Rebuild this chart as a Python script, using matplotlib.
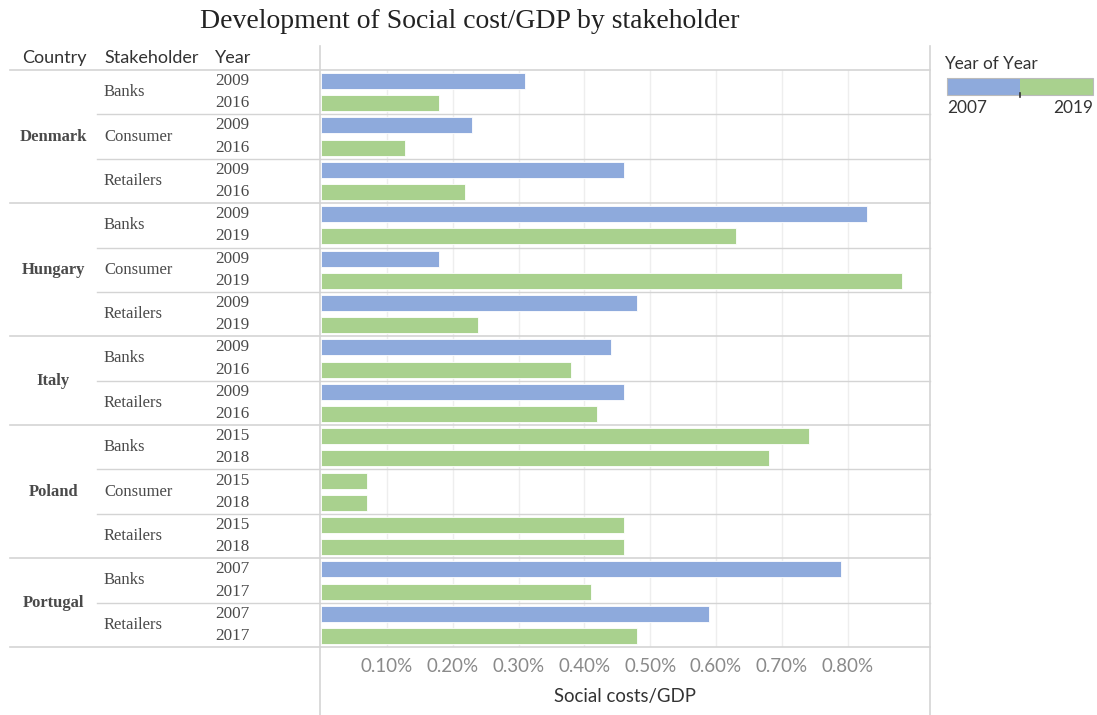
import matplotlib
matplotlib.use("Agg")
import matplotlib.pyplot as plt
from matplotlib.lines import Line2D
from matplotlib.patches import Rectangle
from matplotlib.transforms import blended_transform_factory

# data (values in % of GDP)
countries = ["Denmark", "Hungary", "Italy", "Poland", "Portugal"]
stakeholders = [
    ["Banks", "Consumer", "Retailers"],
    ["Banks", "Consumer", "Retailers"],
    ["Banks", "Retailers"],
    ["Banks", "Consumer", "Retailers"],
    ["Banks", "Retailers"],
]
years = [
    [(2009, 2016), (2009, 2016), (2009, 2016)],
    [(2009, 2019), (2009, 2019), (2009, 2019)],
    [(2009, 2016), (2009, 2016)],
    [(2015, 2018), (2015, 2018), (2015, 2018)],
    [(2007, 2017), (2007, 2017)],
]
values = [
    [(0.310, 0.179), (0.230, 0.128), (0.460, 0.219)],
    [(0.830, 0.630), (0.179, 0.882), (0.480, 0.238)],
    [(0.440, 0.379), (0.460, 0.419)],
    [(0.741, 0.680), (0.070, 0.070), (0.460, 0.460)],
    [(0.790, 0.410), (0.589, 0.480)],
]
xticks = [0.1, 0.2, 0.3, 0.4, 0.5, 0.6, 0.7, 0.8]

BLUE = "#8eaadc"
GREEN = "#a9d18e"
SPLIT_YEAR = 2013  # stepped colour legend: 2007..2019 in two steps
SERIF = "Liberation Serif"
SANS = "Lato"
LINE_C = "#d4d4d4"
LABEL_C = "#4a4a4a"

W, H = 1097, 715
fig = plt.figure(figsize=(W / 100, H / 100), dpi=100)


def fx(px):
    return px / W


def fy(py):
    return 1 - py / H


ax = fig.add_axes([fx(321), fy(647), fx(930) - fx(321), fy(70) - fy(647)])

# flatten into bar rows
rows_y, rows_v, rows_c = [], [], []
row = 0
for ci, c in enumerate(countries):
    for si, s in enumerate(stakeholders[ci]):
        for k in range(2):
            rows_y.append(row + 0.5)
            rows_v.append(values[ci][si][k])
            rows_c.append(BLUE if years[ci][si][k] <= SPLIT_YEAR else GREEN)
            row += 1
n_rows = row

ax.barh(rows_y, rows_v, height=0.72, color=rows_c, edgecolor="white",
        linewidth=0.6, zorder=3)
ax.set_ylim(n_rows, 0)
ax.set_xlim(0, 0.925)
ax.set_yticks([])
ax.set_xticks(xticks)
ax.set_xticklabels([f"{t:.2f}%" for t in xticks], color="#8a8a8a",
                   fontsize=13.5, family=SANS)
ax.tick_params(axis="x", length=0, pad=8)
ax.grid(axis="x", color="#eeeeee", linewidth=1, zorder=0)
ax.set_axisbelow(True)
for sp in ax.spines.values():
    sp.set_visible(False)
ax.set_xlabel("Social costs/GDP", fontsize=13.4, family=SANS, color="#333333",
              labelpad=9)

trans = blended_transform_factory(fig.transFigure, ax.transData)

# header
for px, txt in [(22, "Country"), (104, "Stakeholder"), (215, "Year")]:
    fig.text(fx(px), fy(58), txt, ha="left", va="center", fontsize=13,
             family=SANS, color="#333333")

# row labels and separators
fig.add_artist(Line2D([fx(10), fx(930)], [fy(70), fy(70)], transform=fig.transFigure,
                      color=LINE_C, lw=1.2))
row = 0
for ci, c in enumerate(countries):
    start = row
    for si, s in enumerate(stakeholders[ci]):
        fig.text(fx(104), row + 1, s, transform=trans,
                 ha="left", va="center", fontsize=12, family=SERIF, color=LABEL_C)
        for k in range(2):
            fig.text(fx(215), row + k + 0.5, str(years[ci][si][k]), transform=trans,
                     ha="left", va="center", fontsize=12.3, family=SERIF, color=LABEL_C)
        row += 2
        if si < len(stakeholders[ci]) - 1:
            fig.add_artist(Line2D([fx(97), fx(930)], [row, row], transform=trans,
                                  color=LINE_C, lw=1.0))
    fig.text(fx(53.5), (start + row) / 2, c, transform=trans, ha="center", va="center",
             fontsize=12, family=SERIF, fontweight="bold", color=LABEL_C)
    fig.add_artist(Line2D([fx(10), fx(930)], [row, row], transform=trans,
                          color=LINE_C, lw=1.2))

# vertical frame lines
for px in (320, 930):
    fig.add_artist(Line2D([fx(px), fx(px)], [fy(46), 0], transform=fig.transFigure,
                          color=LINE_C, lw=1.2))

# title
fig.text(fx(470), fy(22), "Development of Social cost/GDP by stakeholder",
         ha="center", va="center", fontsize=20, family=SERIF, color="#222222")

# colour legend
fig.text(fx(944), fy(64), "Year of Year", ha="left", va="center", fontsize=12.4,
         family=SANS, color="#333333")
fig.add_artist(Rectangle((fx(947), fy(95)), fx(1020) - fx(947), fy(78) - fy(95),
                         transform=fig.transFigure, facecolor=BLUE, edgecolor="none"))
fig.add_artist(Rectangle((fx(1020), fy(95)), fx(1093) - fx(1020), fy(78) - fy(95),
                         transform=fig.transFigure, facecolor=GREEN, edgecolor="none"))
fig.add_artist(Rectangle((fx(947), fy(95)), fx(1093) - fx(947), fy(78) - fy(95),
                         transform=fig.transFigure, facecolor="none",
                         edgecolor="#bbbbbb", lw=0.8))
fig.add_artist(Line2D([fx(1020), fx(1020)], [fy(93), fy(97)], transform=fig.transFigure,
                      color="#333333", lw=1.2))
fig.text(fx(947), fy(108), "2007", ha="left", va="center", fontsize=12.4,
         family=SANS, color="#333333")
fig.text(fx(1093), fy(108), "2019", ha="right", va="center", fontsize=12.4,
         family=SANS, color="#333333")

fig.savefig("out.png", dpi=100)
